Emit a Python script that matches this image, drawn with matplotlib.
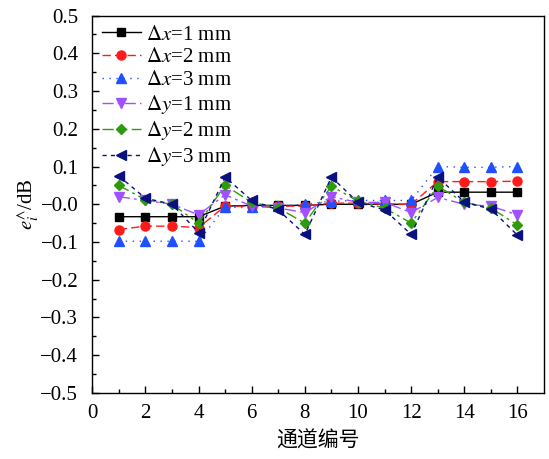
import numpy as np
import matplotlib
matplotlib.use('Agg')
import matplotlib.pyplot as plt

plt.rcParams['font.family'] = ['Liberation Serif', 'DejaVu Serif']
plt.rcParams['mathtext.fontset'] = 'stix'
plt.rcParams['font.size'] = 15

### Data

channels = np.arange(1, 17)

dx1 = [-0.033, -0.033, -0.033, -0.033, -0.005, -0.003, -0.003, -0.003,
       0.0, 0.0, 0.0, 0.0, 0.032, 0.032, 0.032, 0.032]
dx2 = [-0.067, -0.058, -0.058, -0.062, -0.005, -0.005, -0.005, -0.005,
       0.003, 0.003, 0.0, 0.0, 0.06, 0.06, 0.06, 0.061]
dx3 = [-0.098, -0.098, -0.098, -0.098, -0.008, -0.008, -0.005, 0.0,
       0.008, 0.01, 0.01, 0.01, 0.1, 0.098, 0.098, 0.1]
dy1 = [0.02, 0.01, 0.0, -0.028, 0.025, -0.005, -0.01, -0.022,
       0.02, 0.005, 0.005, -0.022, 0.018, 0.0, -0.005, -0.028]
dy2 = [0.05, 0.012, 0.0, -0.05, 0.05, 0.005, -0.01, -0.05,
       0.048, 0.008, -0.01, -0.05, 0.048, 0.005, -0.01, -0.055]
dy3 = [0.075, 0.016, 0.0, -0.075, 0.072, 0.01, -0.015, -0.08,
       0.072, 0.005, -0.015, -0.08, 0.072, 0.006, -0.013, -0.082]

series = [
   (dx1, r'$\Delta x$=1 mm', 'black', 's', '-', 6),
   (dx2, r'$\Delta x$=2 mm', '#ff1a1a', 'o', (0, (6, 3)), 6.5),
   (dx3, r'$\Delta x$=3 mm', '#1f4fff', '^', (0, (1, 4)), 7),
   (dy1, r'$\Delta y$=1 mm', '#a050ff', 'v', (0, (8, 3, 2, 3)), 7),
   (dy2, r'$\Delta y$=2 mm', '#2e9a0c', 'D', (0, (8, 3, 2, 3, 2, 3)), 5.5),
   (dy3, r'$\Delta y$=3 mm', '#0a1080', '<', (0, (3, 3)), 7),
]

fig = plt.figure(figsize=(5.49, 4.59), dpi=100)
ax = fig.add_axes([0.168, 0.144, 0.823, 0.822])

for values, label, color, marker, ls, ms in series:
   ax.plot(channels, values, color=color, marker=marker, linestyle=ls,
           linewidth=1.0, markersize=ms, label=label)

ax.set_xlim(0, 17)
ax.set_ylim(-0.5, 0.5)
ax.set_xticks(np.arange(0, 17, 2))
ax.set_xticks(np.arange(1, 17, 2), minor=True)
yt = np.round(np.arange(-0.5, 0.51, 0.1), 1)
ax.set_yticks(yt)
ax.set_yticks(np.arange(-0.45, 0.5, 0.1), minor=True)
ax.set_yticklabels(['{:.1f}'.format(v).replace('-', '\u2212') for v in yt])
ax.tick_params(which='major', direction='in', length=5, width=1.0)
ax.tick_params(which='minor', direction='in', length=3, width=1.0)
ax.tick_params(axis='y', which='major', pad=10)
ax.tick_params(axis='x', which='major', pad=8)
for sp in ax.spines.values():
   sp.set_linewidth(1.0)

ax.set_ylabel(r'$e_i^{\wedge}$/dB', labelpad=0)
ax.set_xlabel('通道编号', family=['Noto Sans CJK SC', 'DejaVu Sans'], labelpad=5)

ax.legend(loc='upper left', frameon=False, handlelength=1.9, handletextpad=0.25,
          labelspacing=0.15, borderaxespad=0.25, borderpad=0.2)

plt.savefig('out.png', dpi=100)
plt.close()
